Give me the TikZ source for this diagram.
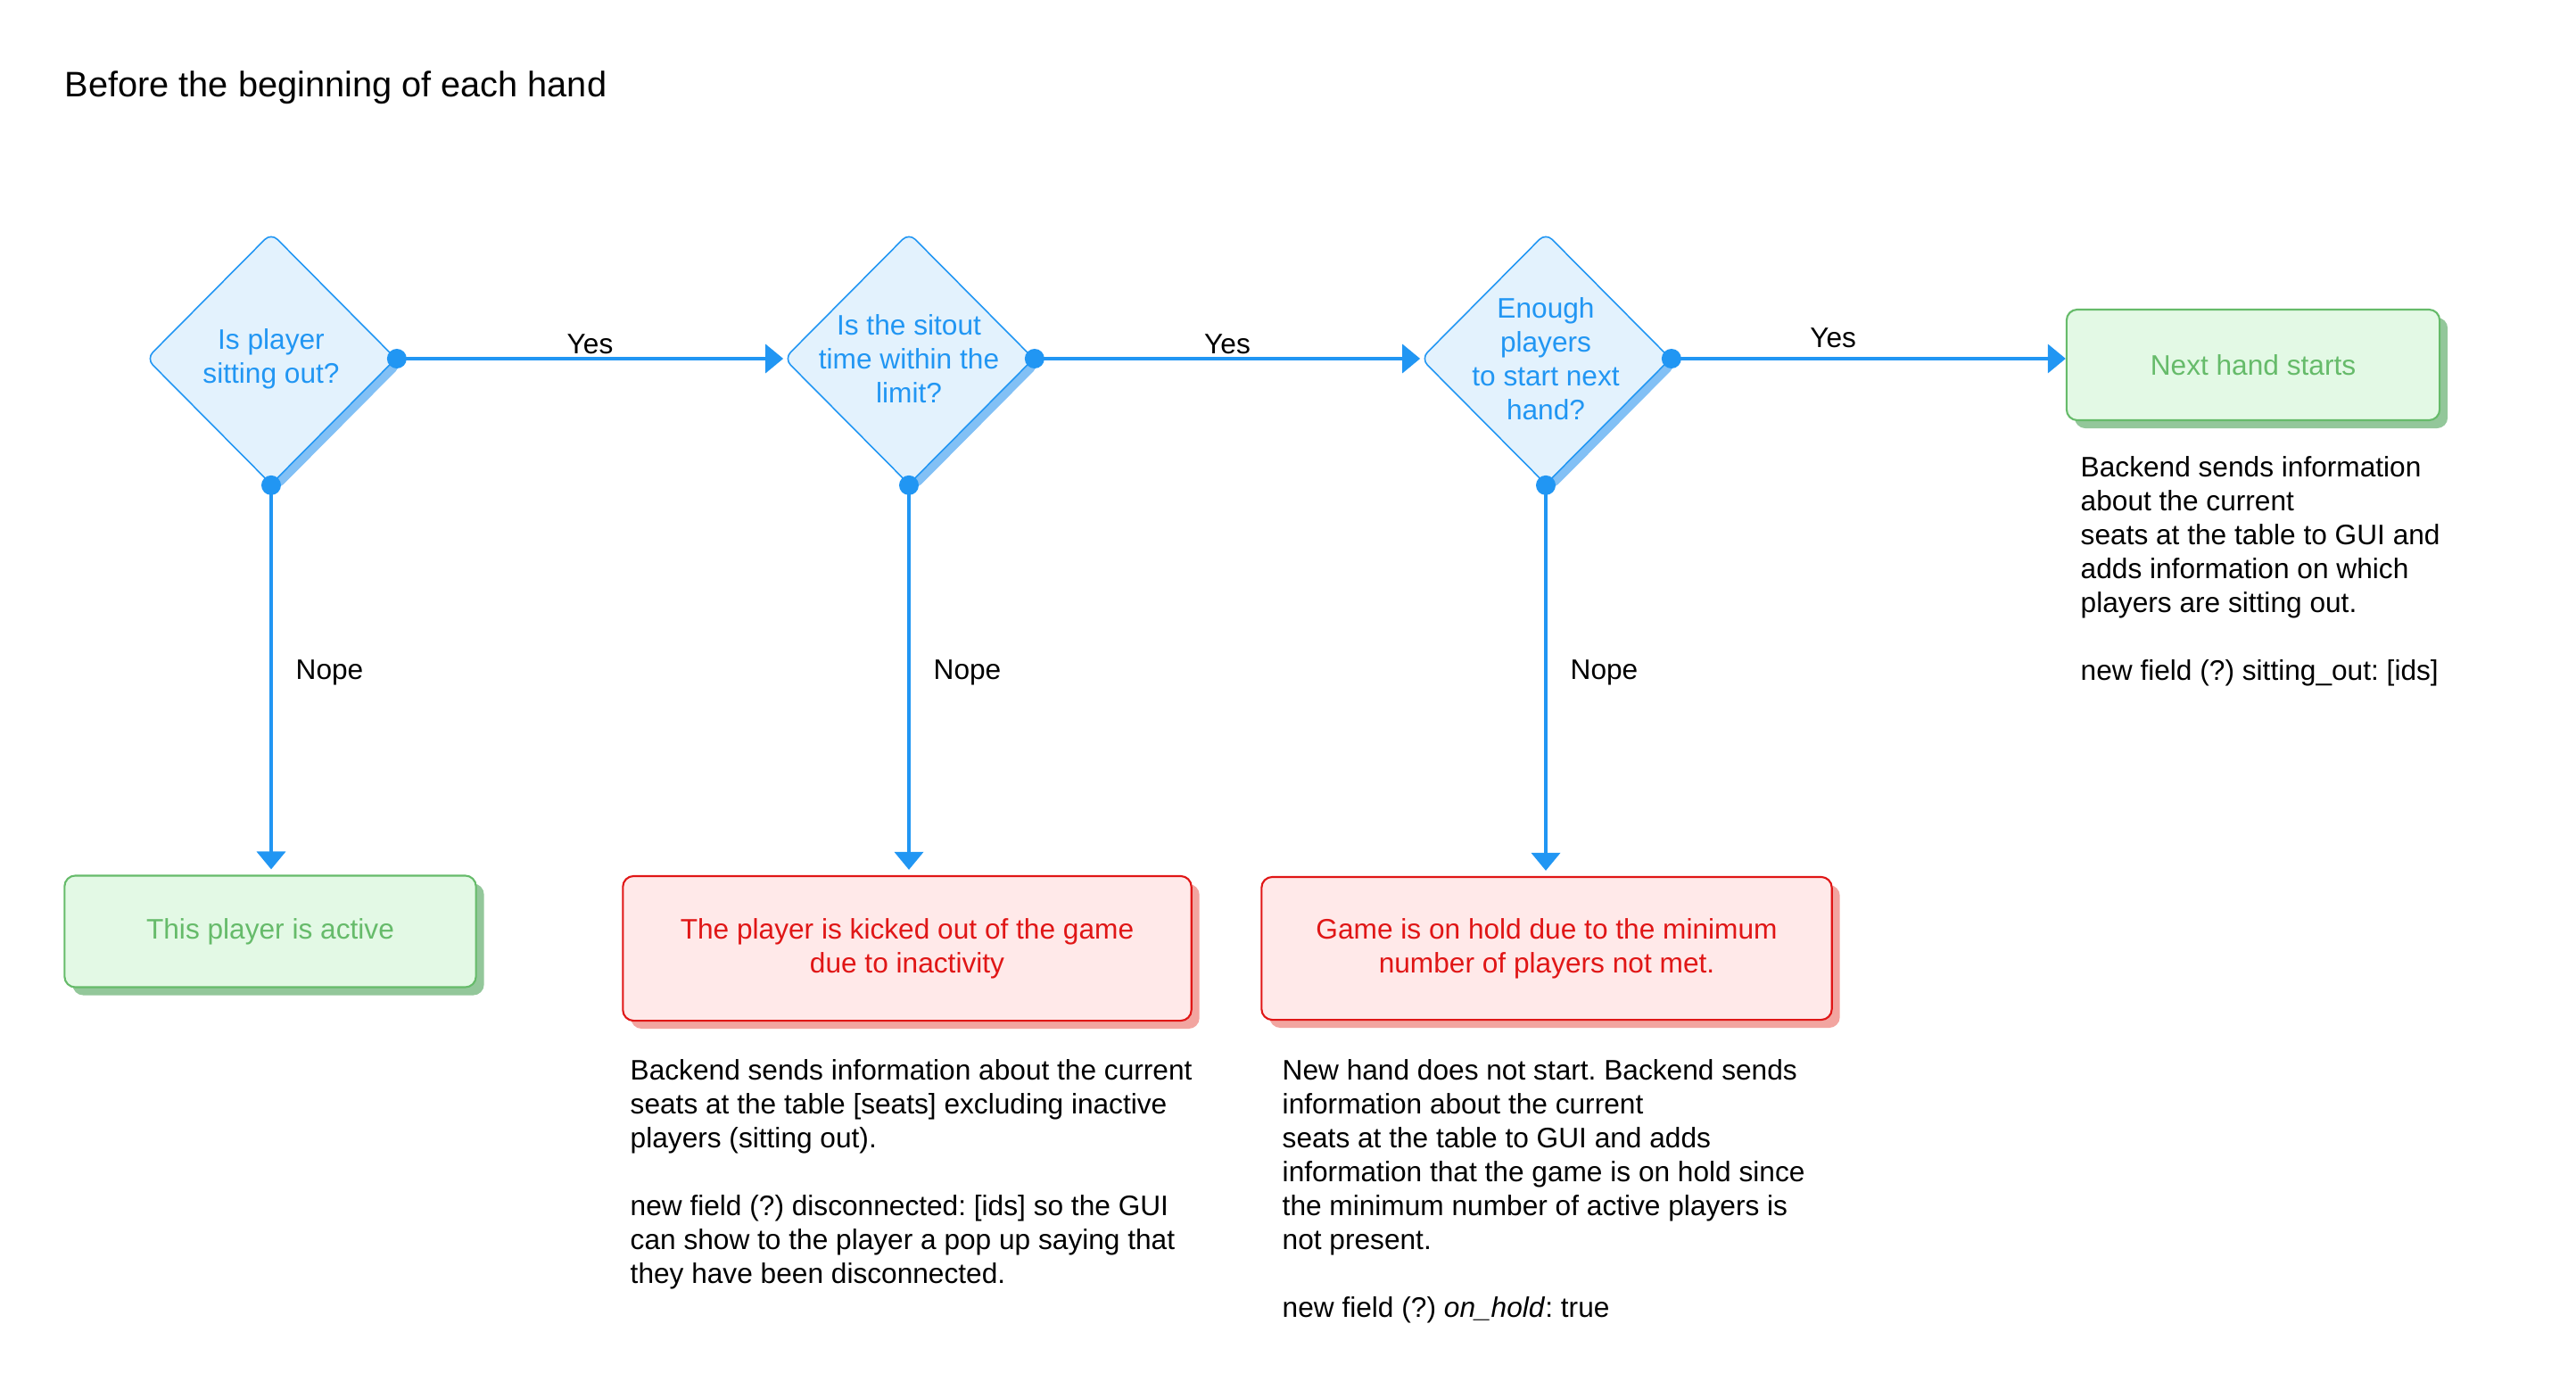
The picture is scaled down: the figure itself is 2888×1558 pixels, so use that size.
\documentclass[tikz,border=0pt]{standalone}
\usepackage{fontspec}
\setmainfont{Liberation Sans}
\usepackage{tikz}
\usetikzlibrary{arrows.meta}
\usetikzlibrary{positioning,shapes.geometric,shadows}
\definecolor{flowblue}{RGB}{33,150,243}
\definecolor{flowfill}{RGB}{227,242,253}
\definecolor{flowshade}{RGB}{130,192,245}
\definecolor{okline}{RGB}{102,187,106}
\definecolor{okfill}{RGB}{227,249,229}
\definecolor{okshade}{RGB}{147,199,154}
\definecolor{failline}{RGB}{224,22,22}
\definecolor{failfill}{RGB}{255,233,233}
\definecolor{failshade}{RGB}{242,165,160}
\frenchspacing
\tikzset{>=stealth}
\tikzset{
  decision/.style={diamond, draw=flowblue, fill=flowfill, line width=0.45pt,
    rounded corners=0.1cm, minimum width=2.8cm, minimum height=2.82cm, inner sep=0pt,
    drop shadow={shadow xshift=0.07cm, shadow yshift=-0.07cm, fill=flowshade, opacity=1}},
  dectext/.style={text=flowblue, align=center, inner sep=0pt},
  okbox/.style={rectangle, draw=okline, fill=okfill, text=okline, line width=0.6pt,
    rounded corners=0.12cm, align=center,
    drop shadow={shadow xshift=0.09cm, shadow yshift=-0.09cm, fill=okshade, opacity=1}},
  failbox/.style={rectangle, draw=failline, fill=failfill, text=failline, line width=0.6pt,
    rounded corners=0.12cm, align=center,
    drop shadow={shadow xshift=0.09cm, shadow yshift=-0.09cm, fill=failshade, opacity=1}},
  note/.style={anchor=north west, inner sep=0pt, align=left},
  flow/.style={draw=flowblue, line width=1.1pt, -{Triangle[length=2mm,width=3.2mm]}},
  yeslabel/.style={above=0pt, inner sep=1pt},
  nopelabel/.style={pos=0.48, right=0.14cm},
}

\begin{document}
\begin{tikzpicture}[x=0.01cm, y=-0.01cm, font=\fontsize{9}{10.8}\selectfont]
  \useasboundingbox (0,0) rectangle (2888,1558);
  \node[anchor=west, inner sep=0pt, font=\fontsize{11.3}{13}\selectfont] (title) at (72,98) {Before the beginning of each hand};

  % questions
  \node[decision, label={[dectext]center:{Is player\\sitting out?}}] (sitout) at (304,402) {};
  \node[decision, label={[dectext]center:{Is the sitout\\time within the\\limit?}}] (limit) at (1019,402) {};
  \node[decision, label={[dectext]center:{Enough\\players\\to start next\\hand?}}] (enough) at (1733,402) {};

  % outcomes
  \node[okbox, minimum width=4.61cm, minimum height=1.25cm] (active) at (303,1044) {This player is active};
  \node[failbox, minimum width=6.37cm, minimum height=1.62cm] (kicked) at (1017,1063) {The player is kicked out of the game\\due to inactivity};
  \node[failbox, minimum width=6.39cm, minimum height=1.6cm] (onhold) at (1734,1063) {Game is on hold due to the minimum\\number of players not met.};
  \node[okbox, minimum width=4.18cm, minimum height=1.24cm] (nexthand) at (2526,409) {Next hand starts};

  \draw[flow] (sitout.east) -- (limit.west) node[midway, yeslabel] {Yes};
  \draw[flow] (limit.east) -- (enough.west) node[midway, yeslabel] {Yes};
  \draw[flow] (enough.east) -- (enough.east -| nexthand.west) node[pos=0.41, yeslabel, above=2pt] {Yes};
  \draw[flow, shorten >=0.06cm] (sitout.south) -- (sitout.south |- active.north) node[nopelabel] {Nope};
  \draw[flow, shorten >=0.06cm] (limit.south) -- (limit.south |- kicked.north) node[nopelabel] {Nope};
  \draw[flow, shorten >=0.06cm] (enough.south) -- (enough.south |- onhold.north) node[nopelabel] {Nope};
  \foreach \q in {sitout,limit,enough}{
    \fill[flowblue] (\q.east) circle (0.11cm);
    \fill[flowblue] (\q.south) circle (0.11cm);
  }

  % notes
  \node[note] (kickednote) at (706,1187) {Backend sends information about the current\\seats at the table [seats] excluding inactive\\players (sitting out).\\[10.8pt]new field (?) disconnected: [ids] so the GUI\\can show to the player a pop up saying that\\they have been disconnected.};
  \node[note] (onholdnote) at (1437,1187) {New hand does not start. Backend sends\\information about the current\\seats at the table to GUI and adds\\information that the game is on hold since\\the minimum number of active players is\\not present.\\[10.8pt]new field (?) \textit{on\_hold}: true};
  \node[note] (nextnote) at (2332,511) {Backend sends information\\about the current\\seats at the table to GUI and\\adds information on which\\players are sitting out.\\[10.8pt]new field (?) sitting\_out: [ids]};
\end{tikzpicture}
\end{document}
